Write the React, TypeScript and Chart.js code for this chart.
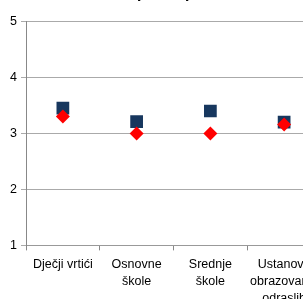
import React, { useEffect, useRef } from "react";
import { Chart, registerables } from "chart.js";

Chart.register(...registerables);

const categories: (string | string[])[] = [
  "Dječji vrtići",
  ["Osnovne", "škole"],
  ["Srednje", "škole"],
  ["Ustanove", "obrazovanja", "odraslih"],
];
const squareValues = [3.45, 3.21, 3.4, 3.2];
const diamondValues = [3.3, 3.0, 3.0, 3.16];
const yTicks = [1, 2, 3, 4, 5];
const titleText = "Prosječna ocjena";

export default function App() {
  const ref = useRef<HTMLCanvasElement>(null);
  useEffect(() => {
    if (!ref.current) return;
    const font = { family: "'Liberation Sans', Arial, sans-serif", size: 12.5 };
    const chart = new Chart(ref.current, {
      type: "line",
      data: {
        labels: categories,
        datasets: [
          {
            label: "B",
            data: diamondValues,
            showLine: false,
            pointStyle: "rectRot",
            pointRadius: 7,
            pointHoverRadius: 7,
            pointBackgroundColor: "#FF0000",
            pointBorderWidth: 0,
            borderColor: "#FF0000",
          },
          {
            label: "A",
            data: squareValues,
            showLine: false,
            pointStyle: "rect",
            pointRadius: 9,
            pointHoverRadius: 9,
            pointBackgroundColor: "#17375E",
            pointBorderWidth: 0,
            borderColor: "#17375E",
          },
        ],
      },
      options: {
        animation: false,
        responsive: false,
        maintainAspectRatio: false,
        layout: { padding: { left: 0, right: 8, top: 0, bottom: 0 } },
        plugins: {
          legend: { display: false },
          tooltip: { enabled: false },
          title: {
            display: true,
            text: titleText,
            color: "#000",
            font: { family: font.family, size: 12, weight: "bold" },
            padding: { top: 7, bottom: 20 },
          },
        },
        scales: {
          x: {
            type: "category",
            offset: true,
            grid: {
              offset: true,
              drawOnChartArea: false,
              drawTicks: true,
              tickLength: 5,
              color: "#888",
            },
            border: { color: "#999", width: 1 },
            ticks: {
              color: "#000",
              font: { ...font, lineHeight: 1.35 },
              padding: 6,
              maxRotation: 0,
              autoSkip: false,
            },
          },
          y: {
            min: 1,
            max: 5,
            afterFit: (s: any) => {
              s.width = 26;
            },
            afterBuildTicks: (s: any) => {
              s.ticks = yTicks.map((v) => ({ value: v }));
            },
            grid: {
              color: "#aaa",
              lineWidth: 1,
              drawTicks: true,
              tickLength: 5,
            },
            border: { color: "#888", width: 1 },
            ticks: {
              color: "#000",
              font,
              padding: 4,
              stepSize: 1,
            },
          },
        },
      },
    });
    return () => chart.destroy();
  }, []);
  return (
    <div style={{ position: "fixed", left: 0, top: -20, width: 330, height: 333 }}>
      <canvas ref={ref} width={330} height={333} style={{ width: 330, height: 333 }} />
    </div>
  );
}
